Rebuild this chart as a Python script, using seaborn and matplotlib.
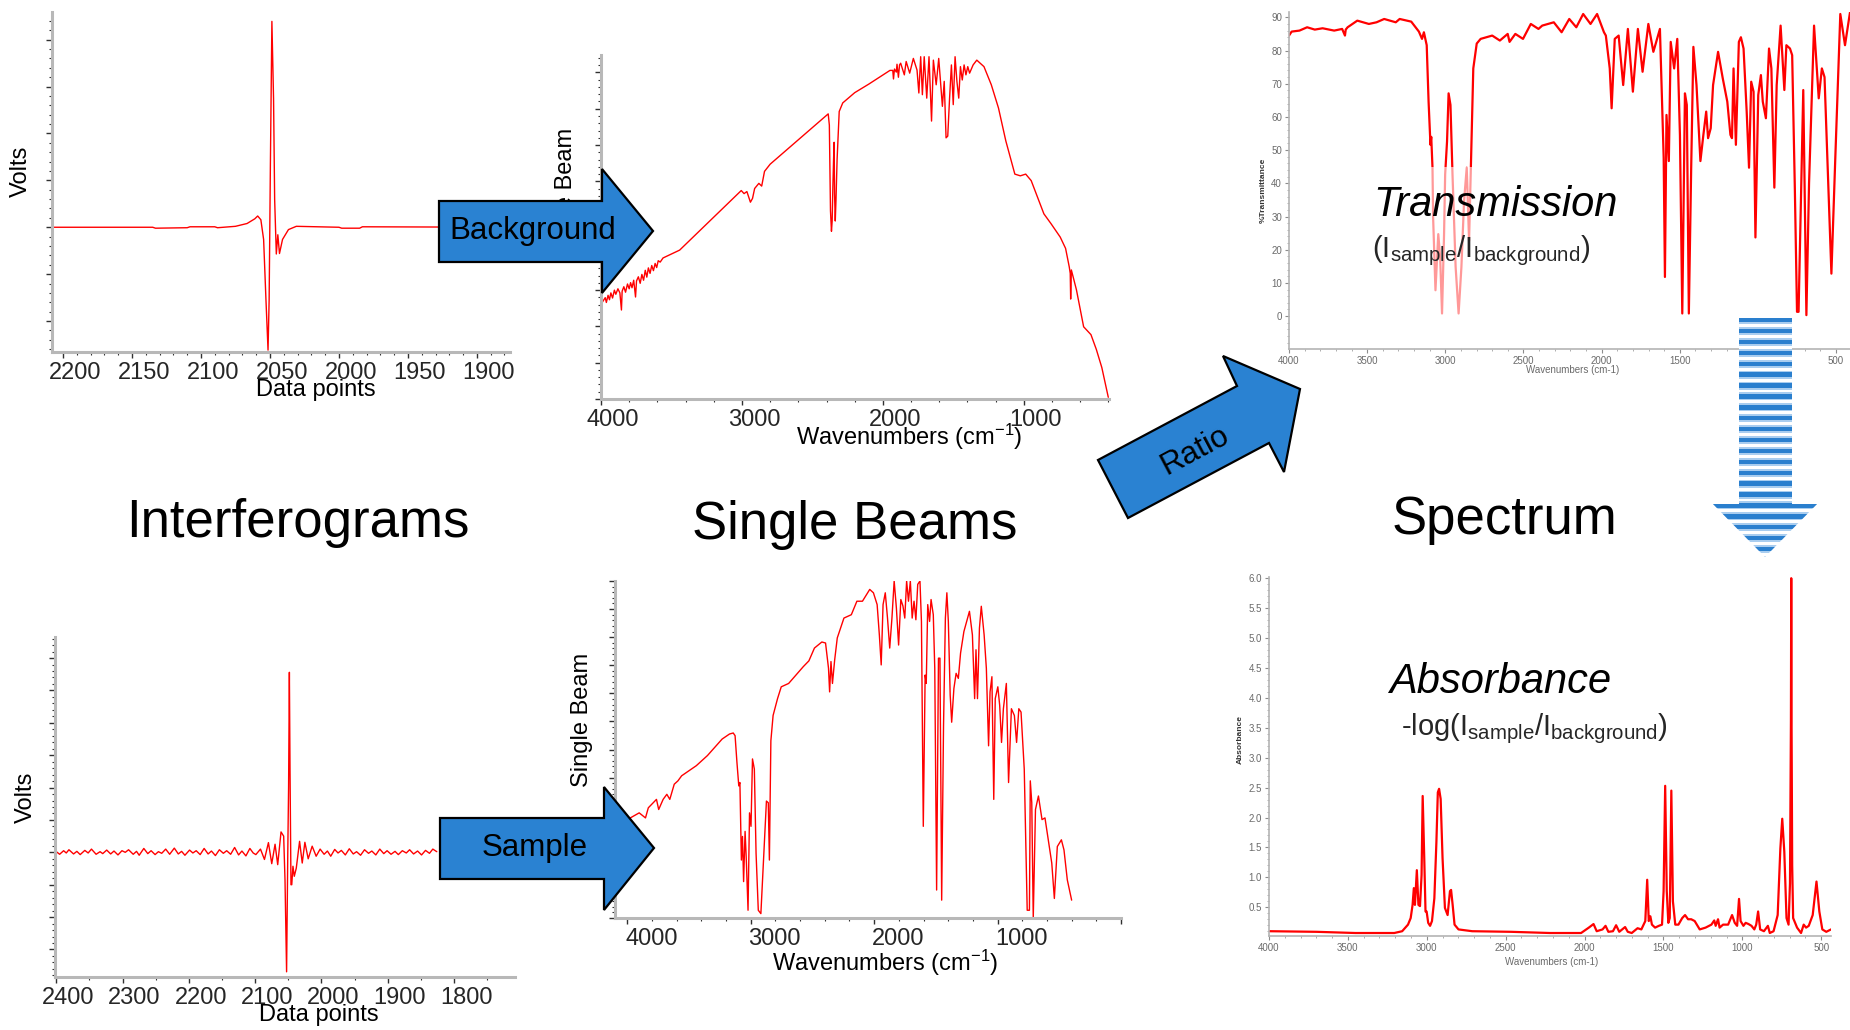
import numpy as np
import matplotlib
matplotlib.use("Agg")
import matplotlib.pyplot as plt
import seaborn as sns
from matplotlib.patches import Polygon, Rectangle
from matplotlib.ticker import MultipleLocator, FixedLocator
from matplotlib.transforms import ScaledTranslation

# ---------------------------------------------------------------- data
# Background interferogram: (data point, volts)
bg_ifg = [
    (2208, 0.0), (2135, 0.0), (2133, -0.02), (2110, -0.01), (2108, 0.01),
    (2090, 0.01), (2088, -0.01), (2075, 0.02), (2066.6, 0.08), (2061, 0.18),
    (2058.9, 0.24), (2056.6, 0.16), (2054.6, -0.26), (2052.9, -1.55),
    (2051.4, -2.62), (2050.6, -1.55), (2049.7, 1.31), (2048.6, 4.39),
    (2047.4, 2.74), (2046.6, 0.59), (2045.4, -0.57), (2044.3, -0.16),
    (2043.1, -0.56), (2040.9, -0.26), (2036.6, -0.05), (2030.9, 0.02),
    (2000, 0.0), (1998, -0.02), (1985, -0.02), (1983, 0.01), (1876, 0.0),
]

# Sample interferogram: (data point, volts)
sample_ifg = [
    (2400, 0.02), (2395, -0.06), (2389, 0.05), (2385, -0.02), (2381, 0.08),
    (2374, -0.05), (2369, 0.03), (2364, -0.07), (2357, 0.06), (2352, -0.02),
    (2347, 0.10), (2340, -0.06), (2334, 0.02), (2330, -0.04), (2324, 0.07),
    (2318, -0.05), (2313, 0.04), (2307, -0.08), (2301, 0.05), (2296, 0.0),
    (2291, 0.08), (2284, -0.06), (2279, 0.03), (2275, -0.09), (2268, 0.12),
    (2262, -0.04), (2257, 0.05), (2251, -0.07), (2246, 0.02), (2241, -0.03),
    (2235, 0.10), (2229, -0.06), (2222, 0.13), (2216, -0.05), (2211, 0.03),
    (2206, -0.09), (2199, 0.07), (2194, -0.02), (2189, 0.05), (2183, -0.07),
    (2177, 0.12), (2171, -0.05), (2166, 0.04), (2160, -0.10), (2154, 0.08),
    (2148, -0.03), (2143, 0.05), (2137, -0.06), (2131, 0.15), (2125, -0.08),
    (2120, 0.04), (2114, -0.11), (2108, 0.12), (2103, -0.02), (2099, -0.07),
    (2092, 0.10), (2086, -0.22), (2080, 0.30), (2075, -0.35), (2070, 0.25),
    (2066, -0.38), (2061, 0.63), (2057, 0.50), (2055, -0.85), (2052.6, -3.69),
    (2050.8, 0.0), (2049.6, 2.0), (2048.4, 5.56), (2047.4, 2.5), (2046, -1.0),
    (2044.8, -1.0), (2043, -0.43), (2041, -0.74), (2038, -0.49), (2033, 0.34),
    (2029, -0.33), (2025, 0.31), (2020, -0.20), (2014, 0.19), (2008, -0.12),
    (2002, 0.10), (1996, -0.06), (1991, 0.04), (1986, -0.12), (1980, 0.09),
    (1975, -0.02), (1970, 0.06), (1964, -0.08), (1958, 0.11), (1952, -0.05),
    (1947, 0.02), (1941, -0.09), (1935, 0.08), (1929, -0.03), (1924, 0.04),
    (1918, -0.08), (1912, 0.10), (1906, -0.04), (1901, 0.05), (1895, -0.06),
    (1889, 0.03), (1884, -0.07), (1878, 0.05), (1872, -0.02), (1867, 0.08),
    (1861, -0.05), (1855, 0.04), (1849, -0.08), (1843, 0.06), (1837, -0.03),
    (1832, 0.10), (1826, 0.02),
]

# Background single beam: (wavenumber, intensity)
bg_beam = [
    (3995, 28.0), (3970, 29.6), (3962, 28.2), (3950, 30.3), (3940, 29.0),
    (3930, 31.0), (3918, 29.5), (3905, 31.8), (3895, 30.6), (3880, 32.2),
    (3866, 31.0), (3855, 26.0), (3850, 31.5), (3838, 32.8), (3826, 31.2),
    (3812, 33.6), (3800, 32.2), (3790, 34.0), (3780, 32.5), (3768, 34.7),
    (3755, 29.8), (3748, 34.5), (3735, 35.7), (3722, 33.8), (3710, 36.4),
    (3698, 34.7), (3686, 37.6), (3675, 35.6), (3664, 38.3), (3652, 36.7),
    (3640, 39.0), (3628, 37.5), (3616, 39.6), (3605, 38.4), (3594, 40.4),
    (3580, 40.0), (3560, 41.2), (3442, 43.5), (3005, 60.9), (2985, 60.0),
    (2965, 60.6), (2940, 57.5), (2925, 58.6), (2910, 61.5), (2880, 63.0),
    (2860, 62.2), (2840, 66.5), (2800, 68.6), (2388, 83.3), (2380, 80.0),
    (2372, 55.0), (2365, 49.0), (2360, 52.0), (2355, 62.0), (2350, 70.0),
    (2346, 75.0), (2343, 60.0), (2338, 52.0), (2333, 58.0), (2325, 70.0),
    (2310, 84.0), (2285, 86.5), (2200, 89.5), (2100, 92.0), (1950, 96.0),
    (1930, 96.0), (1925, 93.5), (1918, 96.4), (1905, 95.5), (1900, 97.8),
    (1890, 94.0), (1882, 97.6), (1874, 98.1), (1848, 94.7), (1835, 98.6),
    (1810, 95.2), (1784, 99.5), (1758, 96.1), (1745, 89.4), (1732, 100.0),
    (1720, 88.9), (1707, 100.0), (1689, 87.9), (1673, 100.0), (1655, 81.2),
    (1642, 99.0), (1622, 91.8), (1604, 99.5), (1578, 85.5), (1565, 92.8),
    (1552, 76.3), (1540, 76.8), (1527, 87.9), (1514, 97.6), (1501, 86.0),
    (1488, 100.0), (1475, 92.8), (1462, 87.9), (1450, 97.1), (1437, 93.2),
    (1424, 97.6), (1411, 94.7), (1398, 97.1), (1385, 95.2), (1360, 97.6),
    (1334, 99.0), (1283, 97.1), (1231, 91.8), (1180, 85.0), (1128, 75.4),
    (1064, 65.7), (1025, 65.2), (987, 65.7), (948, 63.8), (858, 54.1),
    (807, 51.2), (742, 47.3), (704, 44.0), (678, 38.6), (671, 36.7),
    (668, 29.2), (663, 37.7), (627, 31.9), (576, 21.1), (524, 18.8),
    (486, 14.5), (447, 9.2), (401, 0.5),
]

# Sample single beam: (wavenumber, intensity)
sample_beam = [
    (4000, 29.2), (3904, 31.2), (3853, 29.7), (3830, 32.7), (3764, 35.2),
    (3746, 32.2), (3710, 35.2), (3680, 36.7), (3656, 35.2), (3620, 39.7),
    (3590, 40.7), (3560, 42.2), (3441, 45.2), (3351, 48.2), (3232, 53.1),
    (3172, 54.6), (3142, 54.9), (3127, 54.1), (3112, 46.2), (3097, 39.2),
    (3088, 40.2), (3076, 17.2), (3067, 24.2), (3058, 10.8), (3046, 25.7),
    (3037, 18.2), (3022, 2.3), (3010, 31.2), (2998, 27.2), (2986, 47.2),
    (2971, 44.2), (2957, 19.2), (2939, 2.3), (2918, 1.3), (2897, 17.2),
    (2873, 34.7), (2858, 34.2), (2849, 17.2), (2837, 52.6), (2819, 60.1),
    (2783, 65.1), (2753, 68.6), (2693, 69.6), (2634, 72.1), (2574, 74.6),
    (2529, 76.3), (2484, 80.1), (2424, 81.9), (2394, 81.6), (2370, 74.1),
    (2361, 67.1), (2350, 76.1), (2338, 69.6), (2320, 76.6), (2299, 83.1),
    (2245, 89.0), (2185, 90.0), (2140, 94.0), (2095, 94.0), (2036, 97.5),
    (2006, 96.5), (1976, 93.0), (1958, 84.0), (1943, 75.1), (1928, 93.0),
    (1910, 96.5), (1892, 89.0), (1874, 80.1), (1856, 89.0), (1838, 100.0),
    (1820, 92.0), (1802, 81.0), (1784, 94.5), (1767, 92.6), (1752, 89.0),
    (1737, 100.0), (1722, 94.0), (1707, 100.0), (1692, 89.0), (1677, 94.0),
    (1662, 88.5), (1647, 99.0), (1629, 100.0), (1617, 88.0), (1602, 27.2),
    (1587, 72.1), (1578, 69.6), (1566, 93.0), (1551, 88.0), (1539, 94.5),
    (1521, 90.0), (1509, 74.1), (1494, 8.3), (1479, 77.1), (1467, 77.1),
    (1453, 5.3), (1438, 57.1), (1423, 89.0), (1411, 96.5), (1399, 88.0),
    (1384, 66.1), (1372, 58.1), (1354, 68.1), (1336, 72.6), (1318, 71.1),
    (1300, 78.6), (1273, 85.0), (1228, 91.0), (1204, 84.0), (1186, 65.1),
    (1175, 79.6), (1163, 65.1), (1147, 86.0), (1132, 92.5), (1109, 84.0),
    (1091, 74.1), (1073, 51.1), (1061, 67.1), (1046, 71.6), (1031, 35.2),
    (1019, 65.1), (998, 68.6), (983, 63.1), (968, 52.1), (953, 62.1),
    (929, 69.6), (911, 40.2), (888, 62.1), (864, 60.1), (846, 52.1),
    (828, 62.1), (810, 61.1), (784, 44.2), (760, 2.3), (742, 2.3),
    (735, 40.7), (723, 34.2), (711, 0.0), (693, 32.2), (669, 36.2),
    (640, 29.2), (616, 29.7), (561, 16.3), (540, 5.8), (516, 21.2),
    (483, 23.2), (462, 20.2), (435, 11.3), (400, 5.3),
]

# Transmission spectrum: (wavenumber, %T)
transmission = [
    (4000, 84.5), (3983, 85.7), (3933, 86.0), (3884, 87.0), (3835, 86.3),
    (3785, 86.7), (3711, 86.0), (3660, 86.5), (3642, 84.5), (3637, 86.3),
    (3625, 87.0), (3563, 89.0), (3489, 88.0), (3440, 88.5), (3391, 89.5),
    (3317, 88.5), (3292, 89.5), (3218, 88.7), (3169, 85.7), (3149, 83.5),
    (3137, 85.5), (3119, 81.6), (3107, 64.6), (3095, 51.6), (3090, 54.0),
    (3082, 44.7), (3078, 29.7), (3063, 7.8), (3045, 24.7), (3033, 17.7),
    (3021, 0.8), (3008, 24.7), (3001, 42.7), (2989, 52.6), (2979, 67.1),
    (2967, 63.6), (2954, 42.7), (2934, 14.8), (2915, 0.8), (2897, 14.8),
    (2880, 34.7), (2863, 44.7), (2848, 22.7), (2831, 54.6), (2821, 74.6),
    (2799, 82.1), (2774, 83.5), (2700, 84.5), (2651, 83.0), (2601, 85.0),
    (2589, 82.6), (2552, 85.0), (2503, 83.5), (2453, 88.0), (2404, 86.5),
    (2380, 87.5), (2306, 88.5), (2256, 85.5), (2207, 89.5), (2162, 87.0),
    (2118, 91.0), (2071, 88.0), (2029, 91.0), (1985, 85.5), (1973, 84.5),
    (1948, 74.6), (1936, 62.6), (1916, 83.5), (1891, 84.5), (1862, 69.6),
    (1832, 86.5), (1800, 67.6), (1768, 86.5), (1738, 73.6), (1701, 88.0),
    (1669, 79.6), (1627, 86.5), (1603, 47.7), (1595, 11.8), (1585, 60.6),
    (1570, 46.7), (1558, 82.6), (1536, 74.6), (1516, 83.5), (1499, 54.6),
    (1484, 0.8), (1467, 67.1), (1455, 63.6), (1442, 0.8), (1427, 44.7),
    (1413, 81.1), (1393, 69.6), (1368, 46.7), (1349, 54.6), (1331, 61.6),
    (1319, 53.6), (1302, 56.6), (1287, 69.6), (1255, 79.6), (1225, 71.6),
    (1196, 64.6), (1176, 54.6), (1166, 53.6), (1156, 74.6), (1141, 51.6),
    (1122, 82.6), (1109, 84.0), (1092, 80.6), (1072, 61.6), (1057, 44.7),
    (1043, 70.6), (1028, 67.6), (1016, 23.7), (998, 66.6), (981, 72.6),
    (969, 64.6), (949, 59.6), (929, 80.6), (914, 74.6), (895, 38.7),
    (880, 69.6), (855, 87.5), (831, 68.1), (818, 81.6), (795, 80.6),
    (781, 78.6), (764, 38.7), (750, 1.3), (740, 1.3), (710, 68.1),
    (690, 0.3), (673, 40.0), (641, 87.5), (611, 65.6), (591, 74.6),
    (574, 72.0), (554, 44.7), (530, 12.8), (505, 47.7), (473, 91.0),
    (443, 81.6), (411, 91.5),
]

# Absorbance spectrum: (wavenumber, absorbance)
absorbance = [
    (3995, 0.10), (3699, 0.09), (3452, 0.07), (3206, 0.07), (3156, 0.10),
    (3119, 0.21), (3102, 0.32), (3090, 0.54), (3082, 0.82), (3075, 0.54),
    (3063, 1.12), (3053, 0.54), (3043, 0.52), (3033, 1.04), (3026, 2.36),
    (3016, 1.32), (3008, 0.43), (3001, 0.43), (2991, 0.24), (2979, 0.19),
    (2967, 0.27), (2952, 0.65), (2939, 1.59), (2930, 2.42), (2922, 2.48),
    (2912, 2.31), (2900, 1.32), (2885, 0.49), (2868, 0.37), (2853, 0.77),
    (2846, 0.79), (2836, 0.54), (2824, 0.21), (2799, 0.13), (2712, 0.10),
    (2466, 0.09), (2219, 0.07), (2022, 0.07), (1973, 0.16), (1943, 0.22),
    (1923, 0.10), (1886, 0.13), (1867, 0.19), (1849, 0.09), (1820, 0.10),
    (1800, 0.20), (1780, 0.09), (1743, 0.17), (1726, 0.09), (1701, 0.07),
    (1664, 0.15), (1640, 0.13), (1615, 0.27), (1603, 0.96), (1593, 0.27),
    (1583, 0.35), (1573, 0.21), (1553, 0.16), (1529, 0.19), (1509, 0.21),
    (1499, 0.77), (1489, 2.53), (1479, 0.77), (1469, 0.24), (1460, 0.32),
    (1450, 2.45), (1440, 0.60), (1425, 0.21), (1405, 0.21), (1381, 0.32),
    (1363, 0.37), (1344, 0.30), (1324, 0.30), (1302, 0.27), (1270, 0.13),
    (1233, 0.16), (1196, 0.21), (1178, 0.28), (1169, 0.19), (1154, 0.30),
    (1144, 0.16), (1122, 0.21), (1090, 0.21), (1065, 0.37), (1048, 0.24),
    (1033, 0.19), (1021, 0.64), (1011, 0.27), (993, 0.19), (979, 0.24),
    (961, 0.22), (942, 0.19), (924, 0.13), (912, 0.21), (900, 0.43),
    (887, 0.13), (863, 0.10), (838, 0.19), (826, 0.07), (802, 0.10),
    (776, 0.37), (759, 1.48), (747, 1.98), (734, 1.43), (720, 0.32),
    (707, 0.21), (698, 0.90), (692, 3.60), (690, 6.00), (688, 3.60),
    (684, 1.20), (678, 0.32), (653, 0.16), (628, 0.07), (611, 0.21),
    (596, 0.16), (579, 0.19), (554, 0.37), (530, 0.93), (512, 0.43),
    (493, 0.13), (468, 0.09), (438, 0.13),
]

ifg_ticks_top = [2200, 2150, 2100, 2050, 2000, 1950, 1900]
ifg_ticks_bottom = [2400, 2300, 2200, 2100, 2000, 1900, 1800]
beam_ticks = [4000, 3000, 2000, 1000]
spec_ticks = [4000, 3500, 3000, 2500, 2000, 1500, 1000, 500]
trans_yticks = [0, 10, 20, 30, 40, 50, 60, 70, 80, 90]
abs_yticks = [0.5, 1.0, 1.5, 2.0, 2.5, 3.0, 3.5, 4.0, 4.5, 5.0, 5.5, 6.0]

# ---------------------------------------------------------------- style
sns.set_style("ticks")
plt.rcParams["font.family"] = ["Liberation Sans", "DejaVu Sans"]
plt.rcParams["mathtext.fontset"] = "custom"
plt.rcParams["mathtext.rm"] = "Liberation Sans"
plt.rcParams["mathtext.it"] = "Liberation Sans:italic"

W, H = 1850, 1030
fig = plt.figure(figsize=(W / 100, H / 100), dpi=100)
RED = "#ff0000"
BLUE = "#2a82d2"


def px_axes(left, top, right, bottom):
    return fig.add_axes([left / W, 1 - bottom / H, (right - left) / W, (bottom - top) / H])


def draw_line(ax, pts, lw):
    x = [p[0] for p in pts]
    y = [p[1] for p in pts]
    sns.lineplot(x=x, y=y, ax=ax, color=RED, linewidth=lw, sort=False,
                 estimator=None, legend=False)
    ax.set_xlabel("")
    ax.set_ylabel("")


label_shift = ScaledTranslation(0.12, 0, fig.dpi_scale_trans)


def style_big(ax, xticks, xminor, ymajor, yminor):
    sns.despine(ax=ax)
    for s in ("left", "bottom"):
        ax.spines[s].set_color("#b8b8b8")
        ax.spines[s].set_linewidth(2.2)
    ax.xaxis.set_major_locator(FixedLocator(xticks))
    ax.xaxis.set_minor_locator(MultipleLocator(xminor))
    ax.yaxis.set_major_locator(MultipleLocator(ymajor))
    ax.yaxis.set_minor_locator(MultipleLocator(yminor))
    ax.tick_params(which="major", length=4.5, width=1.0, color="#303030",
                   direction="out", labelsize=17, pad=3)
    ax.tick_params(which="minor", length=2, width=0.8, color="#303030", direction="out")
    ax.tick_params(axis="y", labelleft=False)
    for lab in ax.get_xticklabels():
        lab.set_transform(lab.get_transform() + label_shift)


def style_small(ax, xlim, ylim, yticks, yminor):
    sns.despine(ax=ax)
    for s in ("left", "bottom"):
        ax.spines[s].set_color("#b4b4b4")
        ax.spines[s].set_linewidth(1.2)
    ax.set_xlim(*xlim)
    ax.set_ylim(*ylim)
    ax.xaxis.set_major_locator(FixedLocator(spec_ticks))
    ax.xaxis.set_minor_locator(MultipleLocator(100))
    ax.yaxis.set_major_locator(FixedLocator(yticks))
    ax.yaxis.set_minor_locator(MultipleLocator(yminor))
    ax.tick_params(which="major", length=3, width=0.8, color="#8c8c8c",
                   direction="out", labelsize=7, labelcolor="#6a6a6a", pad=2)
    ax.tick_params(which="minor", length=1.5, width=0.6, color="#a0a0a0", direction="out")


# Interferogram, background
axA = px_axes(52, 12, 510, 352)
draw_line(axA, bg_ifg, 1.0)
axA.set_xlim(2208, 1876)
axA.set_ylim(-2.66, 4.59)
style_big(axA, ifg_ticks_top, 10, 1, 0.2)

# Interferogram, sample
axC = px_axes(55, 637, 515, 977)
draw_line(axC, sample_ifg, 1.0)
axC.set_xlim(2402, 1708)
axC.set_ylim(-3.85, 6.65)
style_big(axC, ifg_ticks_bottom, 50, 1, 0.2)

# Single beam, background
axB = px_axes(601, 55, 1109, 399)
draw_line(axB, bg_beam, 1.0)
axB.set_xlim(4000, 396)
axB.set_ylim(0, 100.5)
style_big(axB, beam_ticks, 200, 10.6, 2.12)

# Single beam, sample
axD = px_axes(615, 581, 1121, 918)
draw_line(axD, sample_beam, 1.0)
axD.set_xlim(4100, 0)
axD.set_ylim(0, 100)
style_big(axD, beam_ticks + [0], 200, 100 / 12, 100 / 60)
axD.set_xticklabels(["4000", "3000", "2000", "1000", ""])
for lab in axD.get_xticklabels():
    lab.set_transform(lab.get_transform() + label_shift)

# Transmission spectrum
axE = px_axes(1289, 12, 1850, 349)
draw_line(axE, transmission, 1.6)
style_small(axE, (4000, 411), (-9.9, 91.6), trans_yticks, 2)

# Absorbance spectrum
axF = px_axes(1269, 577, 1831, 936)
draw_line(axF, absorbance, 1.6)
style_small(axF, (4000, 438), (0.02, 6.02), abs_yticks, 0.1)
axF.set_yticklabels([f"{v:.1f}" for v in abs_yticks])

# ---------------------------------------------------------------- overlay
ov = fig.add_axes([0, 0, 1, 1], zorder=20)
ov.set_xlim(0, W)
ov.set_ylim(H, 0)
ov.axis("off")
ov.patch.set_visible(False)

lab_kw = dict(fontsize=17, ha="center", va="center", color="black", zorder=1)
ov.text(21, 171, "Volts", rotation=90, **lab_kw)
ov.text(316, 390, "Data points", **lab_kw)
ov.text(26, 797, "Volts", rotation=90, **lab_kw)
ov.text(319, 1015, "Data points", **lab_kw)
ov.text(566, 195, "Single Beam", rotation=90, **lab_kw)
ov.text(909, 437, r"Wavenumbers (cm$^{\mathrm{-1}}$)", **lab_kw)
ov.text(582, 720, "Single Beam", rotation=90, **lab_kw)
ov.text(885, 963, r"Wavenumbers (cm$^{\mathrm{-1}}$)", **lab_kw)

small_kw = dict(fontsize=7, ha="center", va="center", color="#6a6a6a", zorder=1)
ov.text(1573, 370, "Wavenumbers (cm-1)", **small_kw)
ov.text(1552, 962, "Wavenumbers (cm-1)", **small_kw)
ov.text(1263, 190, "%Transmittance", rotation=90, fontsize=6, fontweight="bold",
        ha="center", va="center", color="#333333")
ov.text(1240, 740, "Absorbance", rotation=90, fontsize=6, fontweight="bold",
        ha="center", va="center", color="#333333")

# translucent box behind the transmission caption
ov.add_patch(Rectangle((1365, 167), 257, 163, facecolor="white", alpha=0.6,
                       linewidth=0, zorder=2))

title_kw = dict(fontsize=38, ha="center", va="center", color="black", zorder=6)
ov.text(298, 523, "Interferograms", **title_kw)
ov.text(855, 525, "Single Beams", **title_kw)
ov.text(1504, 520, "Spectrum", **title_kw)

ov.text(1495, 205, "Transmission", fontsize=30, style="italic", color="black",
        ha="center", va="center", zorder=6)
ov.text(1481, 251, r"(I$_{\mathrm{sample}}$/I$_{\mathrm{background}}$)", fontsize=21,
        ha="center", va="center", zorder=6)
ov.text(1500, 682, "Absorbance", fontsize=30, style="italic", color="black",
        ha="center", va="center", zorder=6)
ov.text(1534, 729, r"-log(I$_{\mathrm{sample}}$/I$_{\mathrm{background}}$)", fontsize=21,
        ha="center", va="center", zorder=6)

# block arrows
arrow_kw = dict(closed=True, facecolor=BLUE, edgecolor="black", linewidth=1.6,
                joinstyle="miter", zorder=5)
ov.add_patch(Polygon([(439, 201), (602, 201), (602, 169), (653, 231),
                      (602, 293), (602, 262), (439, 262)], **arrow_kw))
ov.add_patch(Polygon([(440, 818), (604, 818), (604, 787), (654, 848),
                      (604, 910), (604, 879), (440, 879)], **arrow_kw))
ov.add_patch(Polygon([(1098, 460), (1128, 518), (1269, 443), (1284, 472),
                      (1300, 389), (1223, 356), (1237, 386)], **arrow_kw))

txt_kw = dict(fontsize=22.5, ha="center", va="center", color="black", zorder=6)
ov.text(533, 231, "Background", **txt_kw)
ov.text(535, 848, "Sample", **txt_kw)
ov.text(1195, 451, "Ratio", rotation=28, **txt_kw)

# striped down arrow
down = Polygon([(1739, 318), (1792, 318), (1792, 504), (1817, 504),
                (1765, 557), (1713, 504), (1739, 504)], closed=True,
               facecolor="white", edgecolor="none", zorder=4)
ov.add_patch(down)
for y0 in np.arange(318, 560, 10.9):
    light = Rectangle((1705, y0 - 1.8), 120, 8.0, facecolor="#a9cdef",
                      edgecolor="none", zorder=4.1)
    dark = Rectangle((1705, y0), 120, 4.4, facecolor="#2a7fce",
                     edgecolor="none", zorder=4.2)
    for r in (light, dark):
        ov.add_patch(r)
        r.set_clip_path(down)

fig.savefig("out.png", dpi=100)
